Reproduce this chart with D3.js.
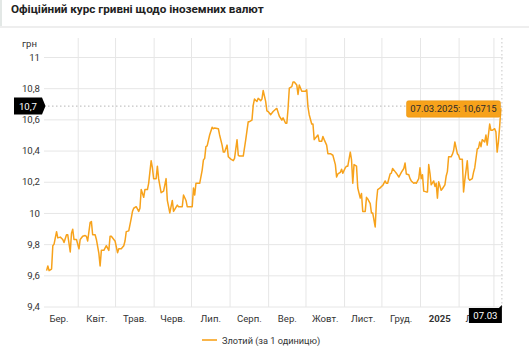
<!DOCTYPE html>
<html>
<head>
<meta charset="utf-8">
<script src="https://cdn.jsdelivr.net/npm/d3@7"></script>
<style>
  html, body { margin: 0; padding: 0; background: #fff; }
  svg { display: block; font-family: Roboto, "Open Sans", sans-serif; }
</style>
</head>
<body>
<div id="chart"></div>
<script>
// chart data: official NBU rate, UAH per 1 PLN
const dates = [
  '2024-03-07', '2024-03-08', '2024-03-09', '2024-03-11', '2024-03-12', '2024-03-13', '2024-03-15', '2024-03-16',
  '2024-03-18', '2024-03-20', '2024-03-21', '2024-03-23', '2024-03-24', '2024-03-26', '2024-03-27', '2024-03-28',
  '2024-03-29', '2024-03-31', '2024-04-02', '2024-04-03', '2024-04-05', '2024-04-07', '2024-04-08', '2024-04-09',
  '2024-04-11', '2024-04-12', '2024-04-13', '2024-04-15', '2024-04-16', '2024-04-18', '2024-04-19', '2024-04-20',
  '2024-04-22', '2024-04-24', '2024-04-25', '2024-04-26', '2024-04-27', '2024-04-28', '2024-04-30', '2024-05-01',
  '2024-05-03', '2024-05-04', '2024-05-06', '2024-05-08', '2024-05-09', '2024-05-10', '2024-05-12', '2024-05-14',
  '2024-05-15', '2024-05-16', '2024-05-18', '2024-05-20', '2024-05-21', '2024-05-22', '2024-05-24', '2024-05-25',
  '2024-05-27', '2024-05-28', '2024-05-30', '2024-05-31', '2024-06-01', '2024-06-03', '2024-06-04', '2024-06-05',
  '2024-06-07', '2024-06-09', '2024-06-11', '2024-06-12', '2024-06-14', '2024-06-16', '2024-06-17', '2024-06-20',
  '2024-06-21', '2024-06-24', '2024-06-25', '2024-06-27', '2024-06-28', '2024-07-02', '2024-07-03', '2024-07-04',
  '2024-07-05', '2024-07-08', '2024-07-10', '2024-07-11', '2024-07-12', '2024-07-13', '2024-07-14', '2024-07-16',
  '2024-07-18', '2024-07-19', '2024-07-20', '2024-07-23', '2024-07-24', '2024-07-26', '2024-07-27', '2024-07-28',
  '2024-07-30', '2024-07-31', '2024-08-02', '2024-08-04', '2024-08-05', '2024-08-07', '2024-08-08', '2024-08-09',
  '2024-08-12', '2024-08-14', '2024-08-16', '2024-08-17', '2024-08-19', '2024-08-20', '2024-08-21', '2024-08-23',
  '2024-08-24', '2024-08-26', '2024-08-27', '2024-08-28', '2024-08-30', '2024-08-31', '2024-09-01', '2024-09-03',
  '2024-09-05', '2024-09-07', '2024-09-08', '2024-09-10', '2024-09-12', '2024-09-13', '2024-09-15', '2024-09-16',
  '2024-09-17', '2024-09-18', '2024-09-20', '2024-09-21', '2024-09-22', '2024-09-24', '2024-09-25', '2024-09-26',
  '2024-09-28', '2024-09-29', '2024-10-01', '2024-10-02', '2024-10-03', '2024-10-04', '2024-10-06', '2024-10-07',
  '2024-10-08', '2024-10-10', '2024-10-11', '2024-10-12', '2024-10-14', '2024-10-15', '2024-10-16', '2024-10-18',
  '2024-10-19', '2024-10-21', '2024-10-23', '2024-10-25', '2024-10-26', '2024-10-27', '2024-10-29', '2024-10-30',
  '2024-10-31', '2024-11-02', '2024-11-03', '2024-11-04', '2024-11-06', '2024-11-07', '2024-11-08', '2024-11-09',
  '2024-11-11', '2024-11-12', '2024-11-14', '2024-11-15', '2024-11-16', '2024-11-18', '2024-11-19', '2024-11-20',
  '2024-11-22', '2024-11-23', '2024-11-24', '2024-11-26', '2024-11-27', '2024-11-28', '2024-11-30', '2024-12-01',
  '2024-12-02', '2024-12-04', '2024-12-05', '2024-12-06', '2024-12-08', '2024-12-09', '2024-12-10', '2024-12-12',
  '2024-12-13', '2024-12-15', '2024-12-17', '2024-12-19', '2024-12-20', '2024-12-21', '2024-12-23', '2024-12-24',
  '2024-12-25', '2024-12-27', '2024-12-28', '2024-12-29', '2024-12-31', '2025-01-01', '2025-01-02', '2025-01-03',
  '2025-01-04', '2025-01-06', '2025-01-07', '2025-01-08', '2025-01-09', '2025-01-10', '2025-01-12', '2025-01-13',
  '2025-01-14', '2025-01-15', '2025-01-16', '2025-01-18', '2025-01-19', '2025-01-21', '2025-01-22', '2025-01-23',
  '2025-01-24', '2025-01-26', '2025-01-27', '2025-01-28', '2025-01-29', '2025-01-31', '2025-02-01', '2025-02-02',
  '2025-02-04', '2025-02-05', '2025-02-06', '2025-02-08', '2025-02-09', '2025-02-10', '2025-02-12', '2025-02-13',
  '2025-02-14', '2025-02-16', '2025-02-17', '2025-02-18', '2025-02-19', '2025-02-20', '2025-02-22', '2025-02-23',
  '2025-02-24', '2025-02-26', '2025-02-27', '2025-02-28', '2025-03-02', '2025-03-03', '2025-03-04', '2025-03-05',
  '2025-03-06', '2025-03-07'
];
const rates = [
  9.63, 9.66, 9.63, 9.64, 9.79, 9.80, 9.88, 9.84,
  9.845, 9.83, 9.81, 9.86, 9.86, 9.75, 9.87, 9.895,
  9.83, 9.83, 9.77, 9.83, 9.85, 9.855, 9.85, 9.82,
  9.94, 9.945, 9.86, 9.86, 9.83, 9.74, 9.66, 9.76,
  9.76, 9.79, 9.775, 9.76, 9.85, 9.85, 9.83, 9.82,
  9.745, 9.77, 9.77, 9.79, 9.82, 9.88, 9.885, 9.965,
  10.01, 10.03, 10.04, 10.01, 10.03, 10.15, 10.10, 10.15,
  10.15, 10.19, 10.335, 10.29, 10.22, 10.22, 10.30, 10.22,
  10.13, 10.14, 10.22, 10.08, 10.00, 10.08, 10.01, 10.05,
  10.04, 10.04, 10.115, 10.08, 10.04, 10.04, 10.16, 10.115,
  10.19, 10.19, 10.275, 10.34, 10.35, 10.425, 10.43, 10.50,
  10.55, 10.54, 10.545, 10.54, 10.50, 10.435, 10.39, 10.39,
  10.435, 10.36, 10.345, 10.335, 10.35, 10.47, 10.37, 10.365,
  10.365, 10.47, 10.585, 10.585, 10.595, 10.69, 10.73, 10.715,
  10.735, 10.72, 10.73, 10.785, 10.715, 10.655, 10.65, 10.63,
  10.65, 10.665, 10.67, 10.62, 10.595, 10.61, 10.575, 10.575,
  10.67, 10.80, 10.81, 10.84, 10.84, 10.82, 10.76, 10.82,
  10.78, 10.78, 10.78, 10.79, 10.68, 10.63, 10.57, 10.57,
  10.47, 10.49, 10.50, 10.46, 10.46, 10.49, 10.47, 10.435,
  10.38, 10.38, 10.37, 10.31, 10.23, 10.25, 10.26, 10.28,
  10.255, 10.29, 10.30, 10.30, 10.39, 10.34, 10.19, 10.31,
  10.30, 10.16, 10.095, 10.125, 10.01, 10.01, 10.10, 10.09,
  10.06, 10.00, 10.00, 9.91, 10.07, 10.15, 10.16, 10.17,
  10.175, 10.205, 10.19, 10.19, 10.25, 10.255, 10.285, 10.265,
  10.255, 10.23, 10.26, 10.285, 10.32, 10.25, 10.245, 10.22,
  10.205, 10.19, 10.195, 10.19, 10.22, 10.29, 10.22, 10.245,
  10.14, 10.135, 10.135, 10.31, 10.255, 10.18, 10.205, 10.17,
  10.19, 10.095, 10.20, 10.145, 10.155, 10.18, 10.235, 10.265,
  10.36, 10.36, 10.375, 10.40, 10.455, 10.38, 10.37, 10.345,
  10.345, 10.135, 10.21, 10.335, 10.22, 10.21, 10.22, 10.26,
  10.29, 10.41, 10.415, 10.455, 10.425, 10.47, 10.455, 10.50,
  10.435, 10.57, 10.53, 10.53, 10.54, 10.52, 10.39, 10.455,
  10.555, 10.6715
];
const yTicks = [9.4, 9.6, 9.8, 10, 10.2, 10.4, 10.6, 10.8, 11];
// the March 2025 label falls past the plot edge, so it is not shown
const monthLabels = ['Бер.', 'Квіт.', 'Трав.', 'Черв.', 'Лип.', 'Серп.', 'Вер.',
  'Жовт.', 'Лист.', 'Груд.', '2025', 'Лют.'];
const title = 'Офіційний курс гривні щодо іноземних валют';
const unitLabel = 'грн';
const seriesName = 'Злотий (за 1 одиницю)';
const cursorValue = 10.685;   // where the hover crosshair sits
const cursorLabel = '10,7';
const tooltipDate = '07.03.2025';
const axisDateLabel = '07.03';

const width = 529;
const height = 350;
const plot = {left: 44, right: 503, top: 38, bottom: 307};
const lineColor = '#f7a21b';
const labelSize = 9.6;

const parse = d3.timeParse('%Y-%m-%d');
const data = dates.map((d, i) => ({date: parse(d), value: rates[i]}));
const start = data[0].date;
const end = data[data.length - 1].date;

const uaLocale = d3.formatLocale({decimal: ',', thousands: ' ', grouping: [3], currency: ['', ' грн']});
const fmt = uaLocale.format('~g');

const x = d3.scaleTime().domain([start, end]).range([46.6, 500.9]);
const y = d3.scaleLinear().domain([9.4, 11]).range([306.5, 57]);

const svg = d3.select('#chart').append('svg')
  .attr('width', width)
  .attr('height', height);

// card header
svg.append('rect').attr('x', 0).attr('y', 0).attr('width', 2).attr('height', 26).attr('fill', '#e3e8e6');
svg.append('rect').attr('x', 0).attr('y', 26).attr('width', width).attr('height', 2).attr('fill', '#eeeeee');
svg.append('text')
  .attr('x', 11).attr('y', 13)
  .attr('font-size', 11.7).attr('font-weight', 'bold').attr('fill', '#222')
  .text(title);

// horizontal gridlines + y labels
const yAxis = svg.append('g')
  .attr('transform', 'translate(' + plot.left + ',0)')
  .call(d3.axisLeft(y).tickValues(yTicks).tickSize(-(plot.right - plot.left)).tickPadding(4).tickFormat(fmt));
yAxis.select('.domain').remove();
yAxis.selectAll('line').attr('stroke', '#e6e6e6');
yAxis.selectAll('text').attr('font-size', labelSize).attr('fill', '#333').attr('font-family', 'Roboto');

svg.append('text')
  .attr('x', 29.5).attr('y', 47)
  .attr('text-anchor', 'middle')
  .attr('font-size', labelSize).attr('fill', '#333')
  .text(unitLabel);

// vertical gridlines at month starts
const monthStarts = d3.timeMonth.range(d3.timeMonth.ceil(start), end);
const xGrid = svg.append('g')
  .attr('transform', 'translate(0,' + plot.bottom + ')')
  .call(d3.axisBottom(x).tickValues(monthStarts).tickSize(-(plot.bottom - plot.top)).tickFormat(''));
xGrid.select('.domain').remove();
xGrid.selectAll('line').attr('stroke', '#e6e6e6');

// month labels at the middle of each month
const months = d3.timeMonth.range(d3.timeMonth.floor(start), end).slice(0, monthLabels.length);
const mids = months.map(m => new Date((+m + +d3.timeMonth.offset(m, 1)) / 2));
const xLabels = svg.append('g')
  .attr('transform', 'translate(0,' + plot.bottom + ')')
  .call(d3.axisBottom(x).tickValues(mids).tickSize(0).tickPadding(8.5)
    .tickFormat((d, i) => monthLabels[i]));
xLabels.select('.domain').remove();
xLabels.selectAll('text')
  .attr('font-size', labelSize).attr('fill', '#333').attr('font-family', 'Roboto')
  .attr('font-weight', (d, i) => monthLabels[i] === '2025' ? 'bold' : 'normal');

// crosshair
const cy = y(cursorValue);
svg.append('line')
  .attr('x1', plot.left).attr('x2', plot.right)
  .attr('y1', cy).attr('y2', cy)
  .attr('stroke', '#b5b5b5').attr('stroke-dasharray', '1.5,2.5');
svg.append('line')
  .attr('x1', x(end) + 1).attr('x2', x(end) + 1)
  .attr('y1', plot.top).attr('y2', plot.bottom)
  .attr('stroke', '#c8c8c8').attr('stroke-dasharray', '1.5,2.5');

// rate line
svg.append('path')
  .datum(data)
  .attr('fill', 'none')
  .attr('stroke', lineColor)
  .attr('stroke-width', 1.5)
  .attr('stroke-linejoin', 'round')
  .attr('d', d3.line().x(d => x(d.date)).y(d => y(d.value)));

// y crosshair label
const yl = svg.append('g').attr('transform', 'translate(0,' + cy + ')');
yl.append('path')
  .attr('d', 'M14,-8.5 H42 L45.5,0 L42,8.5 H14 Z')
  .attr('fill', '#000');
yl.append('text')
  .attr('x', 28).attr('y', 3.5)
  .attr('text-anchor', 'middle')
  .attr('font-size', labelSize).attr('fill', '#fff')
  .text(cursorLabel);

// tooltip
const last = data[data.length - 1];
const tt = svg.append('g').attr('transform', 'translate(0,' + y(last.value) + ')');
tt.append('rect')
  .attr('x', 406.5).attr('y', -7.5).attr('width', 94).attr('height', 16.5)
  .attr('rx', 2)
  .attr('fill', '#f7a21b')
  .attr('stroke', '#e8950f').attr('stroke-width', 0.5);
tt.append('text')
  .attr('x', 453.5).attr('y', 4)
  .attr('text-anchor', 'middle')
  .attr('font-size', 9.5).attr('fill', '#2b2b2b')
  .text(tooltipDate + ': ' + uaLocale.format('.4f')(last.value));

// x crosshair label
const xl = svg.append('g').attr('transform', 'translate(' + (x(end) + 1) + ',' + plot.bottom + ')');
xl.append('path')
  .attr('d', 'M-33,1 H-3 L0,-2 L0,16 H-33 Z')
  .attr('fill', '#000');
xl.append('text')
  .attr('x', -16.5).attr('y', 12)
  .attr('text-anchor', 'middle')
  .attr('font-size', labelSize).attr('fill', '#fff')
  .text(axisDateLabel);

// legend
svg.append('line')
  .attr('x1', 202).attr('x2', 217)
  .attr('y1', 340).attr('y2', 340)
  .attr('stroke', '#f9b54a').attr('stroke-width', 2);
svg.append('text')
  .attr('x', 222).attr('y', 343.5)
  .attr('font-size', 9.2).attr('fill', '#333')
  .text(seriesName);
</script>
</body>
</html>
